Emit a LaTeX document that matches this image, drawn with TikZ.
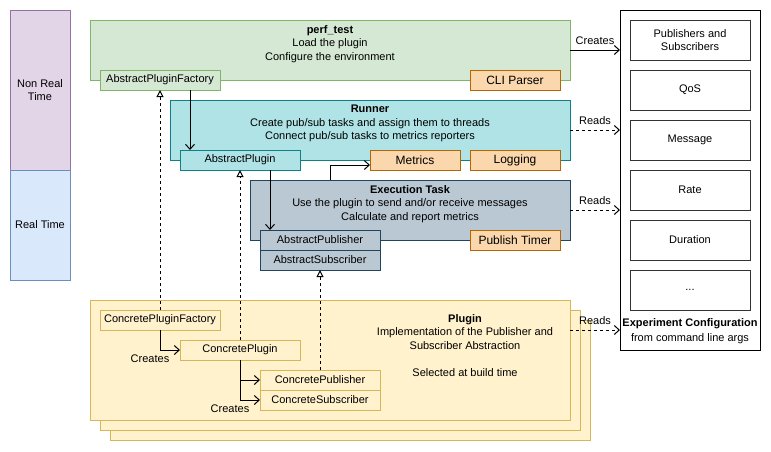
\documentclass[tikz,border=0pt]{standalone}
\usepackage{fontspec}
\setmainfont{Liberation Sans}
\usetikzlibrary{arrows.meta,positioning}

\definecolor{nrtfill}{HTML}{E1D5E7}
\definecolor{nrtdraw}{HTML}{9673A6}
\definecolor{rtfill}{HTML}{DAE8FC}
\definecolor{rtdraw}{HTML}{6C8EBF}
\definecolor{perffill}{HTML}{D5E8D4}
\definecolor{perfdraw}{HTML}{82B366}
\definecolor{runfill}{HTML}{B0E3E6}
\definecolor{rundraw}{HTML}{0E8088}
\definecolor{execfill}{HTML}{BAC8D3}
\definecolor{execdraw}{HTML}{23445D}
\definecolor{utilfill}{HTML}{FAD7AC}
\definecolor{utildraw}{HTML}{B46504}
\definecolor{plugfill}{HTML}{FFF2CC}
\definecolor{plugdraw}{HTML}{D6B656}

\begin{document}
\begin{tikzpicture}[
  x=1pt, y=-1pt,
  every node/.style={font=\fontsize{11}{13.5}\selectfont},
  box/.style={rectangle, draw, line width=1pt, anchor=north west,
              inner sep=0pt, outer sep=0pt, align=center},
  cls/.style={box, minimum width=120pt, minimum height=20pt},
  util/.style={box, fill=utilfill, draw=utildraw, minimum width=90pt,
               minimum height=20pt, font=\fontsize{12}{14}\selectfont},
  opt/.style={box, draw=black!80, minimum width=120pt, minimum height=40pt},
  txt/.style={align=center, inner sep=0pt},
  lbl/.style={inner sep=1pt},
  flow/.style={-{Straight Barb[length=5pt,width=9pt]}, line width=1pt},
  read/.style={flow, dash pattern=on 3pt off 3pt},
  impl/.style={-{Triangle[open,length=7pt,width=7pt]}, line width=1pt,
               dash pattern=on 3pt off 3pt},
]
\useasboundingbox (0,0) rectangle (771,451);

% Timing lanes
\node[box, fill=nrtfill, draw=nrtdraw, minimum width=60pt, minimum height=160pt] (nrt) at (10,10) {Non Real\\Time};
\node[box, fill=rtfill, draw=rtdraw, minimum width=60pt, minimum height=110pt] (rt) at (10,170) {Real Time};

% Plugin stack (drawn first, sits behind)
\node[box, fill=plugfill, draw=plugdraw, minimum width=480pt, minimum height=120pt] (plugC) at (110,320) {};
\node[box, fill=plugfill, draw=plugdraw, minimum width=480pt, minimum height=120pt] (plugB) at (100,310) {};
\node[box, fill=plugfill, draw=plugdraw, minimum width=480pt, minimum height=120pt] (plug) at (90,300) {};
\node[txt, anchor=north] (plugtxt) at (465,314) {\textbf{Plugin}\\Implementation of the Publisher and\\Subscriber Abstraction\\[13.5pt]Selected at build time};

% perf_test layer
\node[box, fill=perffill, draw=perfdraw, minimum width=480pt, minimum height=60pt] (perf) at (90,20) {};
\node[txt, below=5pt of perf.north] (perftxt) {\textbf{perf\_test}\\Load the plugin\\Configure the environment};
\node[cls, fill=perffill, draw=perfdraw] (apf) at (100,70) {AbstractPluginFactory};
\node[util] (cli) at (470,70) {CLI Parser};

% Runner layer
\node[box, fill=runfill, draw=rundraw, minimum width=400pt, minimum height=60pt] (run) at (170,100) {};
\node[txt, below=5pt of run.north] (runtxt) {\textbf{Runner}\\Create pub/sub tasks and assign them to threads\\Connect pub/sub tasks to metrics reporters};
\node[cls, fill=runfill, draw=rundraw] (ap) at (180,150) {AbstractPlugin};
\node[util] (met) at (370,150) {Metrics};
\node[util] (log) at (470,150) {Logging};

% Execution task layer
\node[box, fill=execfill, draw=execdraw, minimum width=320pt, minimum height=60pt] (exec) at (250,180) {};
\node[txt, below=5pt of exec.north] (exectxt) {\textbf{Execution Task}\\Use the plugin to send and/or receive messages\\Calculate and report metrics};
\node[cls, fill=execfill, draw=execdraw] (apub) at (260,230) {AbstractPublisher};
\node[cls, fill=execfill, draw=execdraw, below=0pt of apub] (asub) {AbstractSubscriber};
\node[util] (timer) at (470,230) {Publish Timer};

% Concrete plugin classes
\node[cls, fill=plugfill, draw=plugdraw] (cpf) at (100,310) {ConcretePluginFactory};
\node[cls, fill=plugfill, draw=plugdraw] (cp) at (180,340) {ConcretePlugin};
\node[cls, fill=plugfill, draw=plugdraw] (cpub) at (260,370) {ConcretePublisher};
\node[cls, fill=plugfill, draw=plugdraw, below=0pt of cpub] (csub) {ConcreteSubscriber};

% Experiment configuration
\node[box, minimum width=140pt, minimum height=340pt] (cfg) at (620,10) {};
\node[opt] (pubsub) at (630,20) {Publishers and\\Subscribers};
\node[opt, below=10pt of pubsub] (qos) {QoS};
\node[opt, below=10pt of qos] (msg) {Message};
\node[opt, below=10pt of msg] (rate) {Rate};
\node[opt, below=10pt of rate] (dur) {Duration};
\node[opt, below=10pt of dur] (more) {...};
\node[txt, above=6pt of cfg.south] (cfgtxt) {\textbf{Experiment Configuration}\\[1.5pt]from command line args};

% Config streams
\coordinate (plugout) at ([yshift=-30pt]plug.north east);
\draw[flow] (perf.east) -- (perf.east -| cfg.west) node[midway, above=4pt, lbl] {Creates};
\draw[read] (run.east) -- (run.east -| cfg.west) node[midway, above=4pt, lbl] {Reads};
\draw[read] (exec.east) -- (exec.east -| cfg.west) node[midway, above=4pt, lbl] {Reads};
\draw[read] (plugout) -- (plugout -| cfg.west) node[midway, above=4pt, lbl] {Reads};

% Abstract chain
\draw[flow] ([xshift=30pt]apf.south) -- ([xshift=10pt]ap.north west);
\draw[flow] ([xshift=30pt]ap.south) -- ([xshift=10pt]apub.north west);
\draw[flow] ([xshift=-80pt]exec.north) |- ([yshift=-5pt]met.west);

% Implementations
\draw[impl] (cpf) -- (apf);
\draw[impl] (cp) -- (ap);
\draw[impl] (cpub) -- (asub);

% Concrete creation
\draw[flow] (cpf.south) |- (cp.west) node[pos=0.5, below=3pt, xshift=-10pt, lbl] {Creates};
\draw[flow] (cp.south) |- (cpub.west);
\draw[flow] (cp.south) |- (csub.west) node[pos=0.5, below=3pt, xshift=-10pt, lbl] {Creates};
\end{tikzpicture}
\end{document}
